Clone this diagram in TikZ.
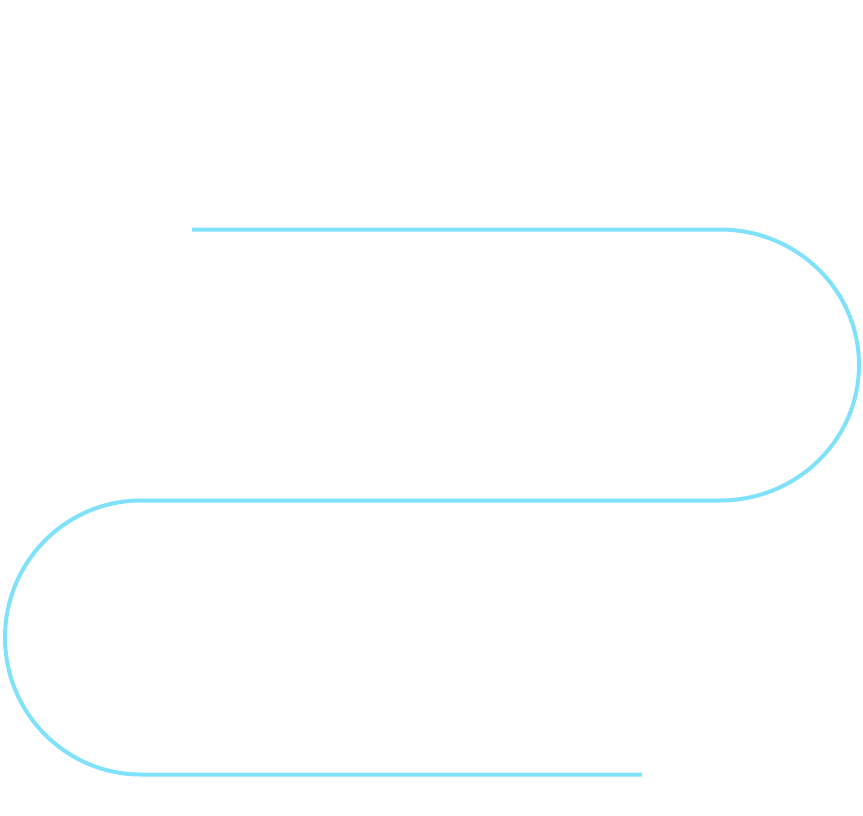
\documentclass[tikz,border=0pt]{standalone}
\definecolor{serp}{RGB}{128,226,250}
\begin{document}
\begin{tikzpicture}[x=1pt,y=-1pt,line width=4pt]
\useasboundingbox (0,0) rectangle (863,815);
\draw[serp] (192,229.5) -- (720,229.5)
  arc[start angle=-90,end angle=90,x radius=139,y radius=135.5]
  -- (141,500.5)
  arc[start angle=-90,end angle=-270,x radius=136,y radius=137]
  -- (642,774.5);
\end{tikzpicture}
\end{document}
